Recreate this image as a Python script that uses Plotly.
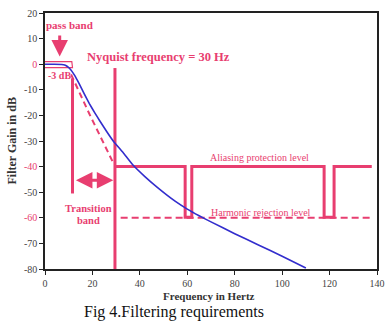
import plotly.graph_objects as go

PINK = "rgb(232,62,112)"
BLUE = "rgb(50,45,205)"
SERIF = "Liberation Serif"

# Filter response (blue curve)
resp_f = [0, 4, 7, 8.3, 9.3, 10.3, 11.3, 12.5, 14.5, 16.5, 18.7, 21, 23, 26, 29, 33, 37, 42, 48, 55, 60, 65, 70, 80, 90, 100, 110]
resp_db = [0, 0, -0.1, -0.3, -0.8, -1.6, -2.7, -4.4, -7.8, -11.5, -15.4, -19.0, -22.0, -26.3, -30.3, -34.6, -39.3, -43.8, -48.6, -53.6, -56.6, -59.2, -61.6, -66.2, -70.6, -75.0, -79.6]

# Ideal (dashed) roll-off
ideal_f = [11, 19, 28.5]
ideal_db = [-4, -20, -38]

# Pass band box
box_f = [0, 11.3, 11.6, 0]
box_db = [1.0, 1.0, -1.3, -1.3]

# Pass-band edge marker and Nyquist line
edge_f = [11.6, 11.6]
edge_db = [-5.5, -50.5]
nyq_f = [29.5, 29.5]
nyq_db = [-1.5, -80]

# Aliasing protection level
alias_f = [29.5, 59.1, 59.1, 61.9, 61.9, 117.7, 117.7, 121.9, 121.9, 137.8]
alias_db = [-40, -40, -59.8, -59.8, -40, -40, -59.8, -59.8, -40, -40]

# Harmonic rejection level
harm_f = [31.9, 137.8]
harm_db = [-60, -60]

ytick_vals = [20, 10, 0, -10, -20, -30, -40, -50, -60, -70, -80]
ytick_pink = [0, -40, -60]
xtick_vals = [0, 20, 40, 60, 80, 100, 120, 140]

fig = go.Figure()
fig.add_trace(go.Scatter(x=box_f, y=box_db, mode="lines", line=dict(color=PINK, width=1.2), hoverinfo="skip"))
fig.add_trace(go.Scatter(x=ideal_f, y=ideal_db, mode="lines", line=dict(color=PINK, width=2, dash="6px,4px"), hoverinfo="skip"))
fig.add_trace(go.Scatter(x=edge_f, y=edge_db, mode="lines", line=dict(color=PINK, width=3), hoverinfo="skip"))
fig.add_trace(go.Scatter(x=nyq_f, y=nyq_db, mode="lines", line=dict(color=PINK, width=3), hoverinfo="skip"))
fig.add_trace(go.Scatter(x=harm_f, y=harm_db, mode="lines", line=dict(color=PINK, width=2, dash="7px,4px"), hoverinfo="skip"))
fig.add_trace(go.Scatter(x=alias_f, y=alias_db, mode="lines", line=dict(color=PINK, width=3), hoverinfo="skip"))
fig.add_trace(go.Scatter(x=resp_f, y=resp_db, mode="lines", line=dict(color=BLUE, width=1.6, shape="spline", smoothing=0.3), hoverinfo="skip"))

W, H = 392, 322
L, R, T, B = 45, 10, 7, 53
pw, ph = W - L - R, H - T - B

ann = []
def txt(x, y, t, size, bold=False, color=PINK):
    ann.append(dict(x=x, y=y, xref="x", yref="y", text=("<b>%s</b>" % t) if bold else t,
                    showarrow=False, font=dict(family=SERIF, size=size, color=color)))

txt(10.2, 15.2, "pass band", 11, True)
txt(6.0, -4.6, "-3 dB", 10, True)
txt(48.0, 2.9, "Nyquist frequency = 30 Hz", 12.5, True)
txt(18.5, -56.3, "Transition", 10.5, True)
txt(18.5, -60.9, "band", 10.5, True)
txt(90.6, -36.4, "Aliasing protection level", 10)
txt(91.2, -57.9, "Harmonic rejection level", 10)

# pass band arrow
ann.append(dict(x=6.2, y=3.0, ax=6.2, ay=11.8, xref="x", yref="y", axref="x", ayref="y",
                text="", showarrow=True, arrowhead=2, arrowsize=1.1, arrowwidth=3, arrowcolor=PINK))
# transition band double arrow
ann.append(dict(x=28.8, y=-45.3, ax=12.4, ay=-45.3, xref="x", yref="y", axref="x", ayref="y",
                text="", showarrow=True, arrowhead=2, startarrowhead=2, arrowside="end+start",
                arrowsize=1.1, startarrowsize=1.1, arrowwidth=3, arrowcolor=PINK))

def px_x(px):
    return (px - L) / pw
def px_y(py):
    return (H - B - py) / ph

# axis titles and caption
ann.append(dict(x=px_x(211), y=px_y(297), xref="paper", yref="paper", text="<b>Frequency in Hertz</b>",
                showarrow=False, yanchor="middle", font=dict(family=SERIF, size=11, color="#333")))
ann.append(dict(x=px_x(12), y=px_y(138), xref="paper", yref="paper", text="<b>Filter Gain in dB</b>",
                showarrow=False, textangle=-90, xanchor="center", yanchor="middle",
                font=dict(family=SERIF, size=12, color="#333")))
ann.append(dict(x=px_x(176), y=px_y(313), xref="paper", yref="paper", text="Fig 4.Filtering requirements",
                showarrow=False, yanchor="middle", font=dict(family=SERIF, size=16, color="#111")))

ytick_text = [("<span style='color:%s'>%d</span>" % (PINK, v)) if v in ytick_pink else str(v) for v in ytick_vals]

fig.update_layout(
    width=W, height=H, margin=dict(l=L, r=R, t=T, b=B),
    paper_bgcolor="white", plot_bgcolor="white", showlegend=False,
    annotations=ann,
    xaxis=dict(range=[0, 140], tickvals=xtick_vals, showgrid=False, zeroline=False,
               showline=True, linecolor="#222", linewidth=1.5, mirror=True,
               ticks="outside", ticklen=4, tickcolor="#222",
               tickfont=dict(family=SERIF, size=10, color="#444")),
    yaxis=dict(range=[-80, 20], tickvals=ytick_vals, ticktext=ytick_text, showgrid=False, zeroline=False,
               showline=True, linecolor="#222", linewidth=1.5, mirror=True,
               ticks="outside", ticklen=4, tickcolor="#222",
               tickfont=dict(family=SERIF, size=10, color="#444")),
)

fig.write_html("out.html")
